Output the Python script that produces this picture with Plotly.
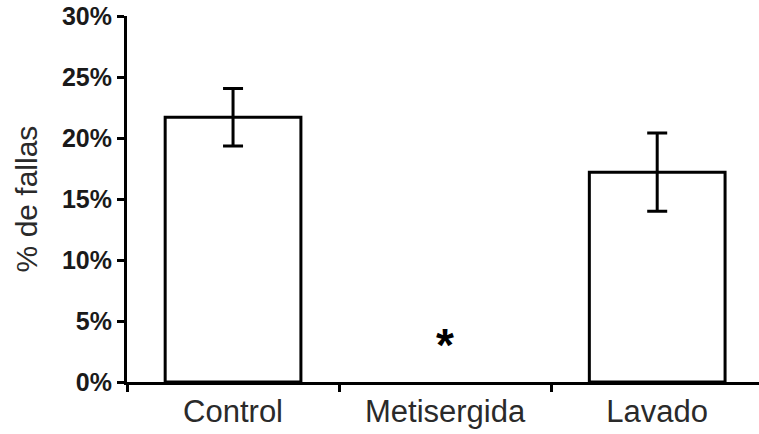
import plotly.graph_objects as go

# Failure percentage per treatment, with error bars
categories = ["Control", "Metisergida", "Lavado"]
fail_pct = [21.7, 0.0, 17.2]
err_pct = [2.35, None, 3.2]
y_ticks = [0, 5, 10, 15, 20, 25, 30]
y_tick_labels = [f"{v}%" for v in y_ticks]
significance_mark = "*"

font_family = "Liberation Sans"

fig = go.Figure()
fig.add_trace(go.Bar(
    x=categories,
    y=fail_pct,
    marker=dict(color="white", line=dict(color="black", width=[3, 0, 3])),
    showlegend=False,
))

# Error bars only for groups that have a spread
eb_x = [c for c, e in zip(categories, err_pct) if e is not None]
eb_y = [v for v, e in zip(fail_pct, err_pct) if e is not None]
eb_e = [e for e in err_pct if e is not None]
fig.add_trace(go.Scatter(
    x=eb_x, y=eb_y, mode="markers",
    marker=dict(size=1, opacity=0),
    error_y=dict(type="data", array=eb_e, visible=True,
                 color="black", thickness=3, width=10),
    showlegend=False, hoverinfo="skip",
))

# Significance asterisk above the empty Metisergida group
fig.add_annotation(
    x=categories[1], y=3.0, text="<b>" + significance_mark + "</b>", showarrow=False,
    font=dict(family=font_family, size=46, color="black"),
    yanchor="middle",
)

fig.update_layout(
    width=759, height=434,
    margin=dict(l=127, r=0, t=16, b=52),
    paper_bgcolor="white", plot_bgcolor="white",
    bargap=0.36,
    font=dict(family=font_family, size=20),
)
fig.update_xaxes(
    type="category",
    range=[-0.5, 2.48],
    showline=True, linecolor="black", linewidth=3,
    ticks="outside", tickson="boundaries", ticklen=7, tickwidth=3, tickcolor="black",
    tickfont=dict(family=font_family, size=31, color="#2a2a2a"),
    showgrid=False, zeroline=False,
)
fig.update_yaxes(
    range=[0, 30],
    tickvals=y_ticks, ticktext=["<b>" + t + "</b>" for t in y_tick_labels],
    showline=True, linecolor="black", linewidth=3,
    ticks="outside", ticklen=7, tickwidth=3, tickcolor="black",
    tickfont=dict(family=font_family, size=25, color="#1a1a1a"),
    title=dict(text="% de fallas", font=dict(family=font_family, size=30, color="#2a2a2a"),
               standoff=16),
    showgrid=False, zeroline=False,
)

fig.write_html("out.html")
